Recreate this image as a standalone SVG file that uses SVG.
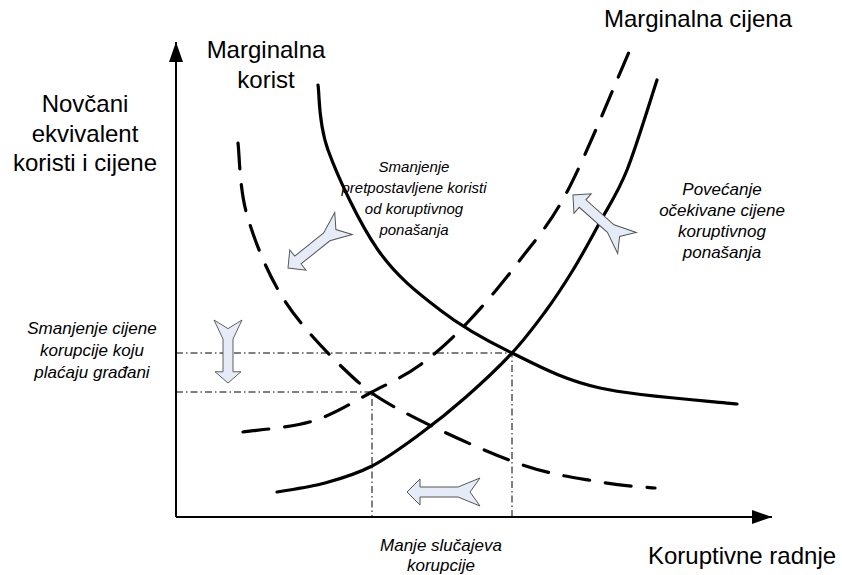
<svg xmlns="http://www.w3.org/2000/svg" xmlns:xlink="http://www.w3.org/1999/xlink" width="842" height="575" viewBox="0 0 842 575">
<style>
.lbl{font-family:"Liberation Sans",Arial,sans-serif;font-size:24px;fill:#000;text-anchor:middle}
.it{font-family:"Liberation Sans",Arial,sans-serif;font-size:17px;font-style:italic;fill:#000;text-anchor:middle}
.it15{font-size:15px}
.axis{stroke:#000;stroke-width:2;fill:none}
.curve{stroke:#000;stroke-width:3.2;fill:none;stroke-linecap:round}
.dash{stroke-dasharray:26 16}
.guide{stroke:#000;stroke-width:1;fill:none;stroke-dasharray:7 3 1.5 3}
.barrow{fill:#E6ECF7;stroke:#555;stroke-width:1;vector-effect:non-scaling-stroke}
</style>
<defs>
<marker id="ah" viewBox="0 0 20 14" refX="20" refY="7" markerWidth="20" markerHeight="14" markerUnits="userSpaceOnUse" orient="auto">
<path d="M0,0 L20,7 L0,14 Z" fill="#000"/>
</marker>
<path id="blk" d="M0,-14 L22,-5 L60,-5 L60,-13 L73,0 L60,13 L60,5 L22,5 L0,14 L10,0 Z"/>
</defs>
<g id="axes">
<line class="axis" x1="176" y1="517" x2="176" y2="42" marker-end="url(#ah)"/>
<line class="axis" x1="176" y1="517" x2="772" y2="517" marker-end="url(#ah)"/>
</g>
<g id="connectors">
<path class="guide" d="M176,353 H512 V517"/>
<path class="guide" d="M176,392 H372 V517"/>
</g>
<g id="mb-solid">
<path class="curve" d="M318,85 C319.7,95.8 318,122.5 328,150 C338,177.5 359.3,223.3 378,250 C396.7,276.7 417.7,292.8 440,310 C462.3,327.2 485.3,340 512,353 C538.7,366 562.5,379.5 600,388 C637.5,396.5 714.2,401.3 737,404"/>
</g>
<g id="mc-solid">
<path class="curve" d="M277,492 C285,490.5 309.2,487.3 325,483 C340.8,478.7 356.2,474.2 372,466 C387.8,457.8 404.3,445.5 420,434 C435.7,422.5 450.7,410.5 466,397 C481.3,383.5 498.8,367.2 512,353 C525.2,338.8 534.8,325.8 545,312 C555.2,298.2 563.8,285 573,270 C582.2,255 591,238.7 600,222 C609,205.3 617.5,193.7 627,170 C636.5,146.3 652,95 657,80"/>
</g>
<g id="mb-dashed">
<path class="curve dash" d="M238,143 C239.5,155 239.5,189.2 247,215 C254.5,240.8 267,272.5 283,298 C299,323.5 323.5,349.3 343,368 C362.5,386.7 371,394.2 400,410 C429,425.8 483.7,451 517,463 C550.3,475 577,477.8 600,482 C623,486.2 645.8,487 655,488"/>
</g>
<g id="mc-dashed">
<path class="curve dash" d="M243,432 C254.7,430.2 291.5,427.7 313,421 C334.5,414.3 354.2,401.3 372,392 C389.8,382.7 404.2,376.5 420,365 C435.8,353.5 450.3,340.5 467,323 C483.7,305.5 503.2,282.2 520,260 C536.8,237.8 549.8,224.7 568,190 C586.2,155.3 618.8,75 629,52"/>
</g>
<g id="arrow-mb-shift">
<use xlink:href="#blk" class="barrow" transform="translate(343.5,223.5) rotate(141.3) scale(0.974,1)"/>
</g>
<g id="arrow-mc-shift">
<use xlink:href="#blk" class="barrow" transform="translate(627,243) rotate(-138.4) scale(0.99,1)"/>
</g>
<g id="arrow-price">
<use xlink:href="#blk" class="barrow" transform="translate(228,320) rotate(90) scale(0.863,1)"/>
</g>
<g id="arrow-cases">
<use xlink:href="#blk" class="barrow" transform="translate(480,492) rotate(180)"/>
</g>
<g id="labels">
<text class="lbl" x="266" y="58">Marginalna</text>
<text class="lbl" x="266" y="88">korist</text>
<text class="lbl" x="698" y="27">Marginalna cijena</text>
<text class="lbl" x="85" y="112">Novčani</text>
<text class="lbl" x="85" y="142">ekvivalent</text>
<text class="lbl" x="85" y="171">koristi i cijene</text>
<text class="lbl" x="742" y="564">Koruptivne radnje</text>
<text class="it it15" x="414" y="172">Smanjenje</text>
<text class="it it15" x="414" y="193">pretpostavljene koristi</text>
<text class="it it15" x="414" y="214">od koruptivnog</text>
<text class="it it15" x="414" y="235">ponašanja</text>
<text class="it" x="722" y="195">Povećanje</text>
<text class="it" x="722" y="216">očekivane cijene</text>
<text class="it" x="722" y="237">koruptivnog</text>
<text class="it" x="722" y="258">ponašanja</text>
<text class="it" x="92" y="334">Smanjenje cijene</text>
<text class="it" x="92" y="356">korupcije koju</text>
<text class="it" x="92" y="378">plaćaju građani</text>
<text class="it" x="441" y="551">Manje slučajeva</text>
<text class="it" x="441" y="571">korupcije</text>
</g>
</svg>
